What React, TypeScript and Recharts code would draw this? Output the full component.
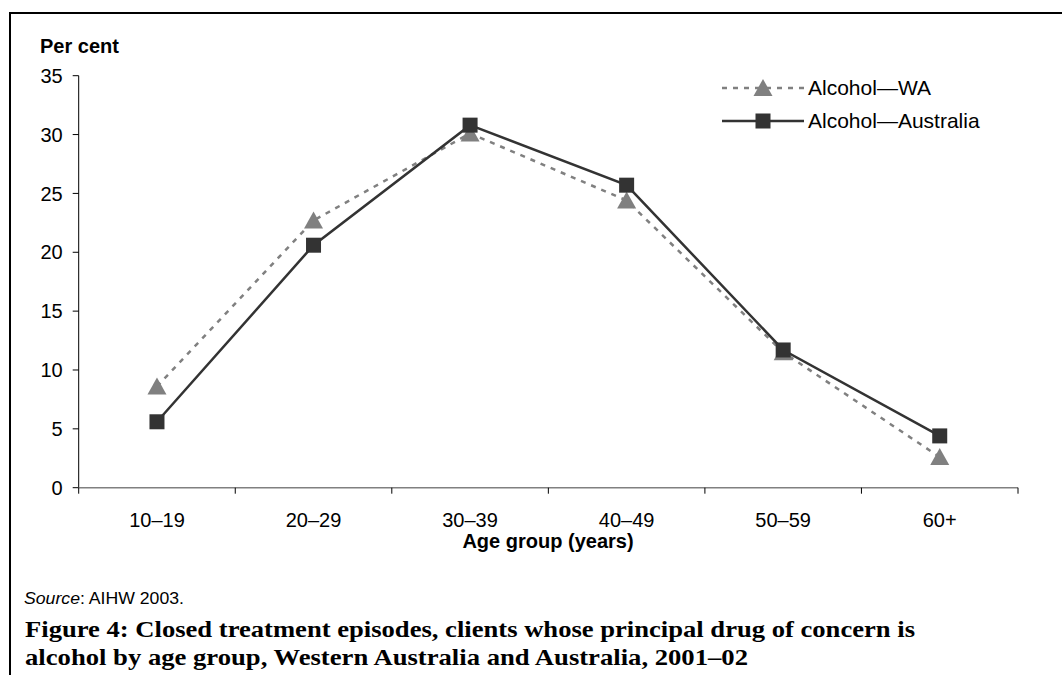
import { LineChart, Line, XAxis, YAxis, Legend } from "recharts";

const ageGroups = ["10–19", "20–29", "30–39", "40–49", "50–59", "60+"];
const alcoholWA = [8.6, 22.7, 30.1, 24.4, 11.5, 2.6];
const alcoholAustralia = [5.6, 20.6, 30.8, 25.7, 11.7, 4.4];
const yTicks = [0, 5, 10, 15, 20, 25, 30, 35];
const boundaryTicks = [0, 1, 2, 3, 4, 5, 6];
const labelTicks = [0.5, 1.5, 2.5, 3.5, 4.5, 5.5];

const WA_COLOR = "#808080";
const AUS_COLOR = "#333333";

// x sits mid-category so ticks can fall on category boundaries
const data = ageGroups.map((g, i) => ({
  x: i + 0.5,
  group: g,
  wa: alcoholWA[i],
  aus: alcoholAustralia[i],
}));

const triangleDot = (props: any) => {
  const { cx, cy, index } = props;
  return (
    <path
      key={`wa-${index}`}
      d={`M${cx},${cy - 9}L${cx + 9.5},${cy + 8}L${cx - 9.5},${cy + 8}Z`}
      fill={WA_COLOR}
    />
  );
};

const squareDot = (props: any) => {
  const { cx, cy, index } = props;
  return <rect key={`aus-${index}`} x={cx - 7.5} y={cy - 7.5} width={15} height={15} fill={AUS_COLOR} />;
};

function LegendBox() {
  return (
    <svg width={260} height={60} style={{ overflow: "visible" }}>
      <line x1={0} y1={13} x2={82} y2={13} stroke={WA_COLOR} strokeWidth={2.5} strokeDasharray="5 6" />
      <path d="M41,4L50.5,21L31.5,21Z" fill={WA_COLOR} />
      <text x={86} y={20} fontSize={21} fill="#000">Alcohol—WA</text>
      <line x1={0} y1={46} x2={82} y2={46} stroke={AUS_COLOR} strokeWidth={2.5} />
      <rect x={33.5} y={38.5} width={15} height={15} fill={AUS_COLOR} />
      <text x={86} y={53} fontSize={21} fill="#000">Alcohol—Australia</text>
    </svg>
  );
}

export default function App() {
  return (
    <div
      style={{
        position: "absolute",
        left: 0,
        top: 0,
        width: 1062,
        height: 675,
        background: "#fff",
        fontFamily: "'Liberation Sans', Arial, sans-serif",
        overflow: "hidden",
      }}
    >
      <div
        style={{
          position: "absolute",
          left: 9,
          top: 12,
          width: 1053,
          height: 663,
          borderTop: "2px solid #000",
          borderLeft: "2px solid #000",
        }}
      />
      <div style={{ position: "absolute", left: 0, top: 0 }}>
        <LineChart
          width={1062}
          height={560}
          data={data}
          margin={{ top: 75.7, right: 44, bottom: 0, left: 18.7 }}
        >
          <YAxis
            width={60}
            domain={[0, 35]}
            ticks={yTicks}
            interval={0}
            stroke="#000"
            tickSize={6}
            tickMargin={10}
            tick={{ fill: "#000", fontSize: 20 }}
          />
          <XAxis
            xAxisId="grid"
            dataKey="x"
            type="number"
            domain={[0, 6]}
            ticks={boundaryTicks}
            interval={0}
            height={2}
            axisLine={{ stroke: WA_COLOR, strokeWidth: 1.5 }}
            tickSize={6}
            tickLine={{ stroke: "#000" }}
            tickFormatter={() => ""}
          />
          <XAxis
            xAxisId="lab"
            dataKey="x"
            type="number"
            domain={[0, 6]}
            ticks={labelTicks}
            interval={0}
            height={70.3}
            axisLine={false}
            tickLine={false}
            tickSize={6}
            tickMargin={17}
            tick={{ fill: "#000", fontSize: 20 }}
            tickFormatter={(v: number) => ageGroups[Math.floor(v)]}
          />
          <Legend
            layout="vertical"
            align="center"
            verticalAlign="middle"
            content={() => <LegendBox />}
            wrapperStyle={{ position: "absolute", left: 722, top: 75, width: 260, height: 60 }}
          />
          <Line
            xAxisId="grid"
            dataKey="wa"
            name="Alcohol—WA"
            stroke={WA_COLOR}
            strokeWidth={2.5}
            strokeDasharray="5 6"
            dot={triangleDot}
            activeDot={false}
            isAnimationActive={false}
          />
          <Line
            xAxisId="grid"
            dataKey="aus"
            name="Alcohol—Australia"
            stroke={AUS_COLOR}
            strokeWidth={2.5}
            dot={squareDot}
            activeDot={false}
            isAnimationActive={false}
          />
        </LineChart>
      </div>
      <svg
        width={1062}
        height={675}
        style={{ position: "absolute", left: 0, top: 0, pointerEvents: "none" }}
      >
        <text x={40} y={53} fontSize={20} fontWeight="bold" fill="#000">
          Per cent
        </text>
        <text x={548} y={548} fontSize={20} fontWeight="bold" fill="#000" textAnchor="middle">
          Age group (years)
        </text>
        <text x={24} y={604} fontSize={17} fill="#000" textLength={160} lengthAdjust="spacingAndGlyphs">
          <tspan fontStyle="italic">Source</tspan>: AIHW 2003.
        </text>
        <g fontFamily="'Liberation Serif', 'DejaVu Serif', serif" fontWeight="bold" fontSize={24} fill="#000">
          <text x={25} y={637} textLength={890} lengthAdjust="spacingAndGlyphs">
            Figure 4: Closed treatment episodes, clients whose principal drug of concern is
          </text>
          <text x={25} y={665} textLength={723} lengthAdjust="spacingAndGlyphs">
            alcohol by age group, Western Australia and Australia, 2001–02
          </text>
        </g>
      </svg>
    </div>
  );
}
